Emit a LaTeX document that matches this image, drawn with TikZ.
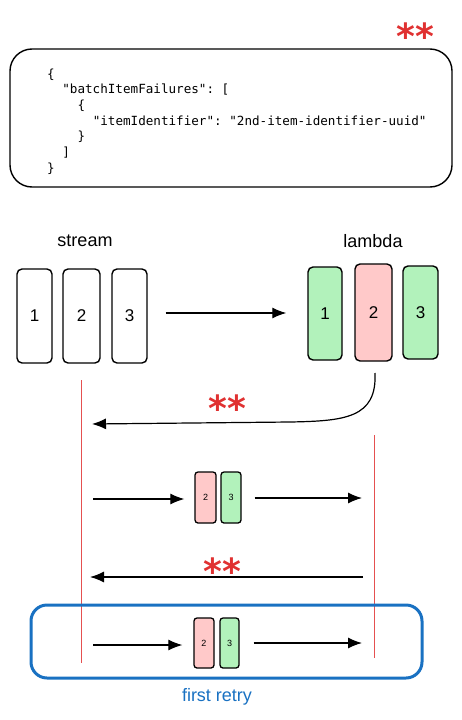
\documentclass[tikz,border=0pt]{standalone}
\usepackage{fontspec}
\setmainfont{Liberation Sans}
\setmonofont{DejaVu Sans Mono}
\newfontfamily\starfont{DejaVu Sans}
\usetikzlibrary{arrows.meta}
\definecolor{exred}{HTML}{E03131}
\definecolor{exgreen}{HTML}{B2F2BB}
\definecolor{expink}{HTML}{FFC9C9}
\definecolor{exblue}{HTML}{1971C2}
\begin{document}
\begin{tikzpicture}[x=1pt,y=-1pt,
  bigbox/.style={draw=black,line width=1.4pt,rounded corners=5pt,inner sep=0pt,font=\fontsize{17}{17}\selectfont},
  smallbox/.style={draw=black,line width=1.3pt,rounded corners=3pt,inner sep=0pt,minimum height=51pt,font=\fontsize{9}{9}\selectfont},
  jline/.style={anchor=base west,inner sep=0pt,font=\ttfamily\fontsize{12.6}{15}\selectfont},
  stars/.style={anchor=north,inner sep=0pt,text=exred,font=\starfont\bfseries\fontsize{36}{36}\selectfont},
  title/.style={inner sep=0pt,font=\fontsize{18}{18}\selectfont},
  arr/.style={line width=1.2pt,-{Latex[length=14pt,width=11pt]}},
  lifeline/.style={draw=exred,line width=1pt,opacity=0.85}
]
\useasboundingbox (0,0) rectangle (462,720);

% JSON box
\node[draw=black,line width=1.4pt,rounded corners=22pt,minimum width=442pt,minimum height=138pt,inner sep=0pt] (json) at (231,118) {};
\node[stars] (st0) at (415,23) {**};
\node[jline] (j1) at (47,78) {\{};
\node[jline] (j2) at (62.2,93.7) {"batchItemFailures": [};
\node[jline] (j3) at (77.4,109.4) {\{};
\node[jline] (j4) at (92.6,125.1) {"itemIdentifier": "2nd-item-identifier-uuid"};
\node[jline] (j5) at (77.4,140.8) {\}};
\node[jline] (j6) at (62.2,156.5) {]};
\node[jline] (j7) at (47,172.2) {\}};

% titles
\node[title] (tstream) at (85,241) {stream};
\node[title] (tlambda) at (373,241) {lambda};

% stream boxes
\node[bigbox,minimum width=35pt,minimum height=94pt] (s1) at (34.5,316) {1};
\node[bigbox,minimum width=37pt,minimum height=94pt] (s2) at (81.5,316) {2};
\node[bigbox,minimum width=35pt,minimum height=94pt] (s3) at (129.5,316) {3};

% lambda boxes
\node[bigbox,fill=exgreen,minimum width=34pt,minimum height=93pt] (l1) at (325,313.5) {1};
\node[bigbox,fill=expink,minimum width=37pt,minimum height=97pt] (l2) at (373.5,312.5) {2};
\node[bigbox,fill=exgreen,minimum width=35pt,minimum height=93pt] (l3) at (420.5,312.5) {3};

\draw[arr,shorten <=18pt,shorten >=21pt] (s3.east |- 0,313) -- (l1.west |- 0,313);

% lifelines
\coordinate (llt) at (81,380);
\coordinate (llb) at (81,663);
\coordinate (lrt) at (374,435);
\coordinate (lrb) at (374,658);
\draw[lifeline] (llt) -- (llb);
\draw[lifeline] (lrt) -- (lrb);

% return curve
\coordinate (c0) at (375,373);
\coordinate (c1) at (92,424);
\draw[arr] (c0) .. controls (377,418) and (345,421) .. (290,422) -- (c1);
\node[stars] (st1) at (227,395) {**};

% row 1
\node[smallbox,fill=expink,minimum width=21pt] (r1a) at (205.5,497.5) {2};
\node[smallbox,fill=exgreen,minimum width=20pt] (r1b) at (231,497.5) {3};
\coordinate (a1s) at (93,499);
\coordinate (a1e) at (362,498);
\draw[arr,shorten >=10pt] (a1s) -- (r1a.west |- a1s);
\draw[arr,shorten <=13pt] (r1b.east |- a1e) -- (a1e);

% return 2
\coordinate (b0) at (363,577);
\coordinate (b1) at (90,577);
\draw[arr] (b0) -- (b1);
\node[stars] (st2) at (222,558) {**};

% first retry
\node[draw=exblue,line width=3pt,rounded corners=16pt,minimum width=391pt,minimum height=73pt,inner sep=0pt] (retry) at (226.5,641.5) {};
\node[smallbox,fill=expink,minimum width=20pt,minimum height=50pt] (r2a) at (204,643) {2};
\node[smallbox,fill=exgreen,minimum width=19pt,minimum height=50pt] (r2b) at (229.5,643) {3};
\coordinate (a2s) at (93,645);
\coordinate (a2e) at (362,643);
\draw[arr,shorten >=11pt] (a2s) -- (r2a.west |- a2s);
\draw[arr,shorten <=14pt] (r2b.east |- a2e) -- (a2e);
\node[title,text=exblue] (tretry) at (217,697) {first retry};
\end{tikzpicture}
\end{document}
